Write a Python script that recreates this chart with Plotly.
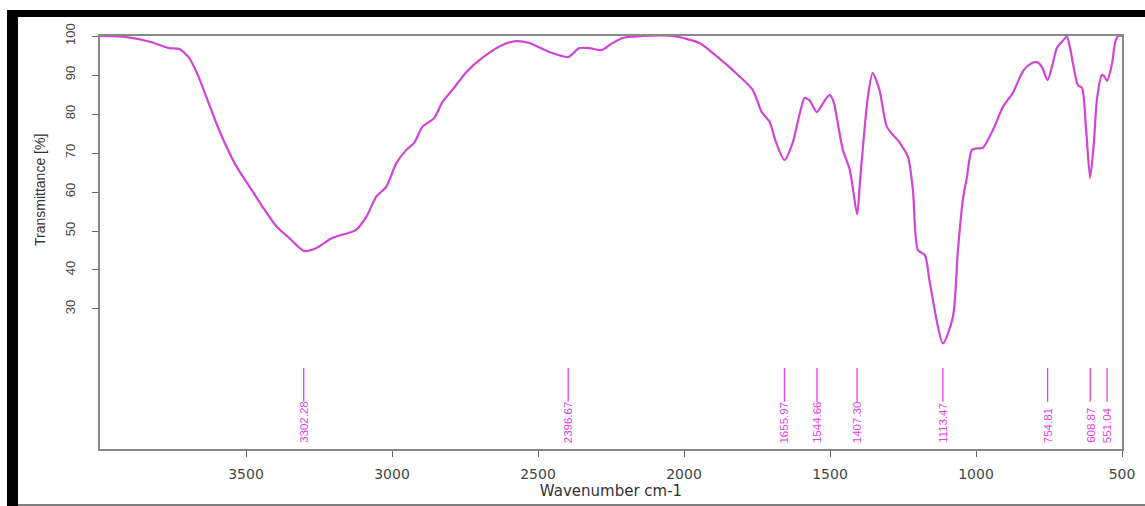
import plotly.graph_objects as go

# Spectrum
wavenumber = [4000, 3909, 3832, 3764, 3729, 3695, 3668, 3637, 3602, 3568, 3534, 3489, 3445, 3397,
              3352, 3302, 3260, 3205, 3123, 3088, 3054, 3020, 2985, 2951, 2924, 2896, 2855, 2828,
              2793, 2745, 2691, 2622, 2574, 2530, 2461, 2397, 2382, 2358, 2324, 2283, 2255, 2211,
              2142, 2039, 1947, 1895, 1834, 1765, 1734, 1707, 1686, 1656, 1628, 1604, 1587, 1570,
              1545, 1522, 1501, 1487, 1477, 1456, 1432, 1407, 1398, 1388, 1371, 1354, 1330, 1305,
              1261, 1233, 1216, 1199, 1175, 1158, 1113, 1079, 1062, 1045, 1031, 1014, 994, 977,
              942, 908, 874, 839, 815, 791, 774, 755, 737, 723, 706, 689, 678, 668, 651, 637,
              623, 609, 596, 586, 569, 562, 551, 534, 524, 514, 500]
transmittance = [100, 99.7, 98.6, 96.9, 96.7, 94.4, 90.5, 84.6, 77.7, 71.8, 66.7, 61.5, 56.4, 51.3,
                 48.2, 44.9, 45.6, 48.2, 50.3, 53.6, 58.8, 61.3, 67.4, 70.8, 72.6, 76.7, 79, 83,
                 86.2, 90.8, 94.4, 97.7, 98.7, 98.2, 95.9, 94.6, 95.4, 96.9, 96.9, 96.4, 97.7, 99.5,
                 100, 100, 98.2, 95.2, 91.3, 86.2, 80.5, 78, 73, 68.2, 72.6, 80, 84.1, 83.5,
                 80.5, 83, 84.9, 83, 79.2, 70.8, 65.6, 54.3, 62, 70.8, 84, 90.5, 86, 76.7,
                 72.6, 69, 60.5, 45.1, 43.8, 36.7, 21.2, 28, 45, 58, 63.8, 70.8, 71.2, 71.3,
                 75.9, 81.8, 85.4, 91, 92.8, 93.3, 92, 88.7, 93, 96.9, 98.5, 99.8, 97, 93, 87.4, 86.7,
                 76, 63.6, 73, 83.6, 90, 89.8, 88.5, 93, 98.2, 100, 100]

# Peak markers
peaks = [3302.28, 2396.67, 1655.97, 1544.66, 1407.30, 1113.47, 754.81, 608.87, 551.04]
peak_labels = ["3302.28", "2396.67", "1655.97", "1544.66", "1407.30", "1113.47", "754.81", "608.87", "551.04"]
marker_top, marker_bottom, label_base = 14.9, 6.2, -4.9

x_ticks = [3500, 3000, 2500, 2000, 1500, 1000, 500]
y_ticks = [30, 40, 50, 60, 70, 80, 90, 100]

LINE = "#d044d6"
LABEL = "#e63ee6"

fig = go.Figure()
fig.add_trace(go.Scatter(x=wavenumber, y=transmittance, mode="lines",
                         line=dict(color=LINE, width=2.2, shape="spline", smoothing=0.7),
                         hoverinfo="x+y", showlegend=False))

mx, my = [], []
for p in peaks:
    mx += [p, p, None]
    my += [marker_top, marker_bottom, None]
fig.add_trace(go.Scatter(x=mx, y=my, mode="lines", line=dict(color=LABEL, width=1.3),
                         hoverinfo="skip", showlegend=False))

for p, t in zip(peaks, peak_labels):
    fig.add_annotation(x=p, y=label_base, text=t, textangle=-90, showarrow=False,
                       xanchor="center", yanchor="bottom",
                       font=dict(family="Liberation Sans, Arial", size=11.5, color=LABEL))

fig.add_annotation(xref="paper", yref="paper", x=(40 - 100) / 1022, y=(449 - 190) / 413,
                   text="Transmittance [%]", textangle=-90, showarrow=False,
                   xanchor="center", yanchor="middle",
                   font=dict(family="Liberation Sans, Arial", size=14, color="#333"))

# black frame around the picture
fig.add_shape(type="rect", xref="paper", yref="paper", x0=(7 - 100) / 1022, x1=(1145 - 100) / 1022,
              y0=(449 - 17) / 413, y1=(449 - 10) / 413, fillcolor="black", line_width=0, layer="above")
fig.add_shape(type="rect", xref="paper", yref="paper", x0=(7 - 100) / 1022, x1=(18 - 100) / 1022,
              y0=(449 - 506) / 413, y1=(449 - 10) / 413, fillcolor="black", line_width=0, layer="above")
fig.add_shape(type="line", xref="paper", yref="paper", x0=(18 - 100) / 1022, x1=(1145 - 100) / 1022,
              y0=(449 - 505) / 413, y1=(449 - 505) / 413, line=dict(color="#555", width=1.5))

fig.update_layout(
    width=1145, height=506,
    margin=dict(l=100, r=23, t=36, b=57, autoexpand=False),
    paper_bgcolor="white", plot_bgcolor="white",
    xaxis=dict(range=[4000, 500], tickvals=x_ticks, ticktext=[str(v) for v in x_ticks],
               automargin=False,
               showgrid=False, zeroline=False, showline=True, linecolor="#888", linewidth=1.5,
               mirror=True, ticks="outside", ticklen=6, tickcolor="#666",
               ticklabelstandoff=5,
               tickfont=dict(family="DejaVu Sans, Liberation Sans", size=14, color="#444"),
               title=dict(text="Wavenumber cm-1", standoff=5,
                          font=dict(family="DejaVu Sans, Liberation Sans", size=15, color="#333"))),
    yaxis=dict(range=[-5.9, 100], tickvals=y_ticks, ticktext=[str(v) for v in y_ticks],
               automargin=False,
               showgrid=False, zeroline=False, showline=True, linecolor="#888", linewidth=1.5,
               mirror=True, ticks="outside", ticklen=6, tickcolor="#666", tickangle=-90,
               ticklabelstandoff=12,
               tickfont=dict(family="Liberation Sans, Arial", size=13, color="#444")),
)

fig.write_html("out.html")
